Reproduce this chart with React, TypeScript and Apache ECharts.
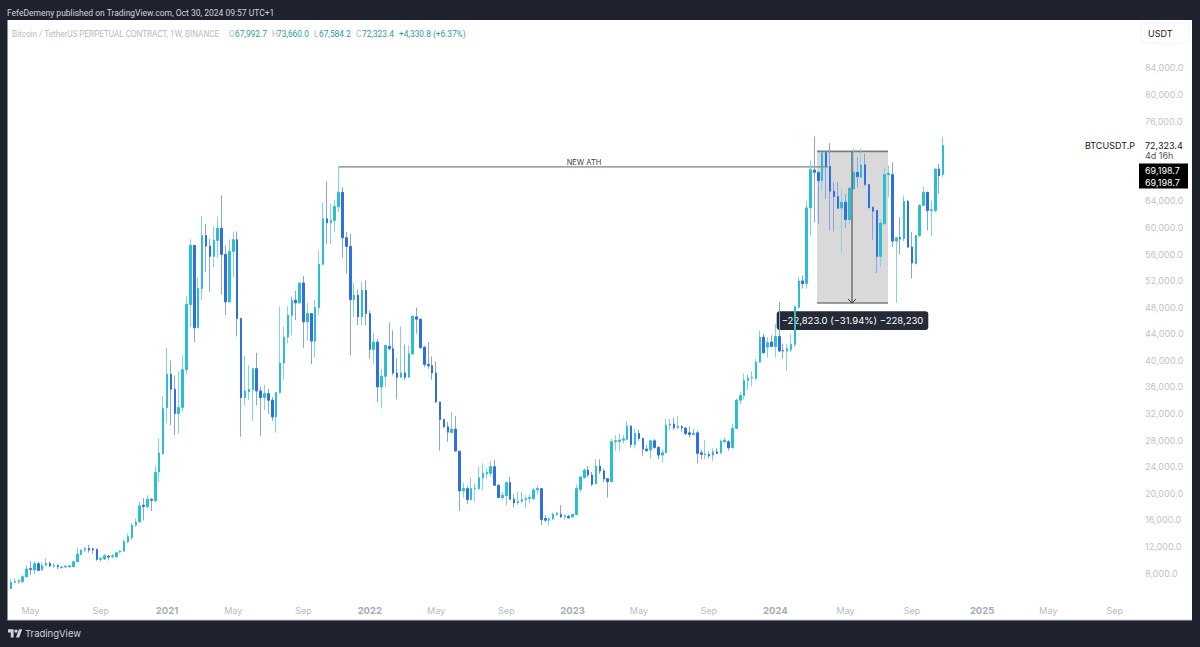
import React, { useEffect, useRef } from "react";
import * as echarts from "echarts";

echarts.graphic.registerShape(
  "tvlogo",
  (echarts.graphic as any).extendPath("M14 22H7V11H0V4h14v18zM28 22h-8l7.5-18h8L28 22z", {})
);

const opens = [
  5650,6600,6650,6700,7450,8650,8450,9400,8450,9200,
  9450,9050,9100,8800,8900,8950,8950,9700,10800,11500,
  11700,11650,11550,10050,10100,10550,10500,10450,11150,11300,
  12700,13350,15200,15700,18200,17950,19100,18850,23200,26000,
  32900,37900,35650,32000,32900,38600,48400,57300,44900,50800,
  58800,57200,55650,58050,59900,55950,48800,56400,58150,46300,
  34400,35300,35600,38750,35400,34400,35000,34000,31500,35150,
  39600,43500,46800,49050,48650,51650,45800,47050,42900,47950,
  54450,61300,60700,61050,63150,65300,58450,57150,49150,49800,
  46550,50550,47050,41650,42750,36000,37600,42100,41750,38100,
  37450,38100,37450,41000,46550,46200,42000,39400,39200,38100,
  33750,31100,30000,29150,29650,26350,20350,20700,19050,20700,
  20700,22350,22900,23000,24000,21200,19350,19650,21600,19100,
  18550,18800,19050,19200,19200,20500,20700,16200,15950,16150,
  16800,16800,16450,16550,16450,16800,20600,22350,23500,22750,
  21450,24100,23350,22200,21750,27750,27800,28000,28100,30100,
  27350,29000,28250,26650,26500,27900,26900,25750,26100,30250,
  30400,29900,30000,29800,29100,28850,29100,26100,25800,25850,
  25750,26250,26100,27750,27750,26850,29750,34000,34700,37000,
  37350,37300,39750,43500,42000,42750,42100,43600,41500,41400,
  41600,42400,48000,51950,51550,62950,68650,68300,67050,71250,
  69200,65450,64650,62950,63800,61200,65800,68300,67550,69450,
  66450,63050,62550,55650,60550,67950,67950,57950,58450,58300,
  63950,57050,54550,58800,63300,65300,62550,62550,68800,67993,
];
const closes = [
  6600,6700,6800,7450,8600,8550,9400,8400,9100,9450,
  9050,9150,8950,8900,9050,9100,9700,10850,11450,11650,
  11450,11500,10050,10200,10600,10400,10600,11050,11300,12750,
  13450,15200,15650,18100,18000,19100,18950,23150,26050,32750,
  37900,35650,32000,32900,38600,48450,57300,44900,50800,58800,
  57200,55650,58050,59900,55950,48800,56400,58150,46300,34400,
  35400,35600,38750,35400,34400,35000,34000,31500,35150,39600,
  43500,46800,49050,48650,51650,45800,47050,42900,47950,54450,
  61300,60700,61050,63150,65300,58450,57150,49150,49800,46550,
  50550,47050,41650,42750,36000,37600,42250,41750,38100,37450,
  38100,37450,41000,46650,46200,41900,39400,39200,38100,33750,
  31100,30000,29200,29650,26350,20350,20700,19050,20700,20800,
  22350,23000,23150,24000,21200,19350,19700,21600,19100,18550,
  18800,19050,19200,19350,20500,20700,16050,15950,16150,16850,
  16950,16450,16600,16300,16800,20700,22450,23500,22750,21350,
  24100,23350,22150,21750,27750,27900,28000,28200,30100,27350,
  29000,28250,26650,26400,27900,26900,25750,26100,30250,30400,
  29900,30100,29850,29000,28850,29050,26000,25850,25900,25650,
  26250,26000,27850,28000,26850,29750,34000,34700,37000,37350,
  37450,39700,43500,41150,42650,42100,43600,41400,41400,41750,
  42400,48050,51950,51550,62950,68700,68300,67050,71250,69200,
  65450,64650,62900,63800,61200,65900,68300,67650,69400,66450,
  62950,62450,55650,60650,67950,68150,57950,58450,58250,63950,
  57050,54650,58800,63300,65300,62550,62650,68800,67800,72323,
];
const highs = [
  7050,7200,7100,7650,9200,9800,9800,9700,9550,10250,
  9700,9450,9350,9050,9150,9200,9850,11900,11550,11950,
  12250,11750,11700,10450,10850,10700,10850,11200,11450,13050,
  13950,15550,16200,18700,19300,19700,19200,24100,28250,34600,
  41850,40000,37750,38350,40750,49650,58200,57300,52450,61700,
  60550,58300,60150,61650,64800,57300,58200,59400,59400,46300,
  40650,39250,38750,41150,36000,36350,35750,34500,35150,48050,
  45100,48150,49650,50450,51650,52700,48650,47150,49150,56550,
  63700,66950,63550,64150,69200,66050,59300,59050,51650,50650,
  51800,52050,47450,44100,43250,38650,42250,45700,44500,40250,
  45100,42400,42250,46800,47950,46300,42100,42750,40600,39850,
  33750,31100,30750,32250,31600,26350,21600,21050,22400,21500,
  24000,24500,23750,24900,25000,21350,20200,21750,22500,19850,
  20200,20200,19700,19850,20850,21200,20800,16700,16450,17100,
  17200,18200,16850,16700,16950,21300,22700,23750,24100,23200,
  25100,25100,23700,22250,28250,28750,29000,28800,30900,30250,
  29750,29600,28400,27250,28000,28150,27100,26600,31250,31250,
  31400,31600,30250,30000,30050,29750,29400,26500,28000,26250,
  26750,26750,28100,28350,28000,30400,34250,35300,38000,37950,
  38400,40200,44500,44000,43500,43750,45500,48800,42500,42500,
  44000,48300,52550,52800,64050,70050,73700,68300,71350,71250,
  72700,66800,66800,65800,65050,66150,71850,70600,71850,71100,
  66550,63050,62550,61050,69050,69300,69800,58450,61550,64800,
  64150,59300,58800,63550,66150,65300,64050,68800,69550,73660,
];
const lows = [
  5650,6450,6300,6550,7350,7700,7850,8300,8350,9050,
  8850,8700,8600,8700,8800,8800,8850,9600,10700,11150,
  11050,10850,9850,9650,9950,9900,10200,10300,10950,11150,
  12450,12950,14950,15550,15950,17850,17350,18700,21700,25750,
  30500,30250,28750,29000,32250,37850,45000,42750,44900,49150,
  53300,50300,54050,55400,49900,46800,48650,52550,43600,28500,
  33250,34000,30900,33250,28650,32500,31900,30900,29150,35000,
  37100,42600,43750,46050,48550,41900,43000,39400,40500,46800,
  54300,57550,57450,59300,62300,55450,53050,40750,46550,45300,
  45300,45300,40250,39500,33750,32750,36000,41500,37750,34100,
  37450,37000,37450,40750,44000,41750,39000,38750,37100,33600,
  26400,29900,27750,29000,26350,17350,19350,18350,18850,18700,
  20450,20450,22250,22500,21150,19300,19050,18200,19050,17850,
  18200,18550,17700,18450,18950,19850,15200,15700,15200,15950,
  16600,16300,16050,16200,16350,16700,20100,22200,22400,21050,
  21350,22900,21650,19350,21650,26400,26350,27500,27900,26850,
  26750,27900,25650,26250,25250,26700,25100,24650,26000,29500,
  29500,29600,29250,28750,28400,28700,24500,25100,25100,25250,
  24850,25900,25900,27600,26400,26750,29750,33400,34100,35550,
  36100,37000,39600,41000,40400,42000,40500,41250,40250,38400,
  41250,42000,47800,50800,50800,58800,60800,60550,65550,64300,
  59550,59400,62800,56300,59950,60550,65800,66050,67450,66300,
  62950,58150,53150,54050,60550,64550,57050,48650,55950,57950,
  56950,52300,54450,58550,63300,59550,58700,62300,65050,67584,
];

const MONTHS = ["Jan","Feb","Mar","Apr","May","Jun","Jul","Aug","Sep","Oct","Nov","Dec"];
const FIRST_WEEK_UTC = Date.UTC(2020, 2, 30);
const WEEK_MS = 7 * 24 * 3600 * 1000;
const SLOTS = 290;
const weeks: string[] = [];
for (let i = 0; i < SLOTS; i++) weeks.push(new Date(FIRST_WEEK_UTC + i * WEEK_MS).toISOString().slice(0, 10));

const HIDDEN_PRICE_TICKS = [4000, 68000, 72000, 88000];
const ATH_PRICE = 69198.7;
const BOX_TOP = 71450;
const BOX_BOTTOM = 48627;

const FONT = "Inter, 'Noto Sans', sans-serif";
const NARROW = "Roboto, 'Noto Sans', sans-serif";
const BG = "#1e222d";
const UP = "#2bbdd0";
const DOWN = "#2f6fe6";
const UP_WICK = "#7fd6e2";
const DOWN_WICK = "#86a4ea";
const GRID_L = 9.05;
const BAND = 3.9;
const GRID_W = BAND * SLOTS;
const GRID_T = 41.4;
const GRID_H = 558.2;

const xOf = (i: number) => GRID_L + (i + 0.5) * BAND;

const txt = (x: number, y: number, text: string, fill: string, size = 9, extra: any = {}) => ({
  type: "text",
  style: { x, y, text, fill, font: `400 ${size}px ${extra.family || FONT}`, verticalAlign: "middle", align: extra.align || "left" },
  silent: true,
});
const rb = { family: NARROW };

export default function App() {
  const ref = useRef<HTMLDivElement>(null);
  useEffect(() => {
    const chart = echarts.init(ref.current!, undefined, { renderer: "svg" });
    chart.setOption({
      animation: false,
      backgroundColor: BG,
      grid: { left: GRID_L, top: GRID_T, width: GRID_W, height: GRID_H, containLabel: false },
      xAxis: {
        type: "category",
        data: weeks,
        boundaryGap: true,
        axisLine: { show: false },
        axisTick: { show: false },
        splitLine: { show: false },
        axisLabel: {
          interval: (_: number, v: string) => {
            const d = new Date(v + "T00:00:00Z");
            return d.getUTCDate() <= 7 && [0, 4, 8].includes(d.getUTCMonth());
          },
          hideOverlap: false,
          margin: 6,
          fontFamily: FONT,
          fontSize: 9,
          color: "#b8bbc3",
          formatter: (v: string) => {
            const d = new Date(v + "T00:00:00Z");
            return d.getUTCMonth() === 0 ? `{y|${d.getUTCFullYear()}}` : MONTHS[d.getUTCMonth()];
          },
          rich: { y: { fontFamily: FONT, fontSize: 9.5, fontWeight: 700, color: "#a9acb5" } },
        },
      },
      yAxis: {
        type: "value",
        position: "right",
        min: 4000,
        max: 88000,
        interval: 4000,
        axisLine: { show: false },
        axisTick: { show: false },
        splitLine: { show: false },
        axisLabel: {
          margin: 5,
          fontFamily: FONT,
          fontSize: 9,
          color: "#c0c3ca",
          formatter: (v: number) =>
            HIDDEN_PRICE_TICKS.includes(v) ? "" : v.toLocaleString("en-US", { minimumFractionDigits: 1, maximumFractionDigits: 1 }),
        },
      },
      series: [
        {
          name: "wicks",
          type: "candlestick",
          barWidth: 1,
          silent: true,
          z: 2,
          itemStyle: { color: UP_WICK, color0: DOWN_WICK, borderColor: UP_WICK, borderColor0: DOWN_WICK, borderWidth: 1 },
          data: opens.map((o, i) => [o, closes[i], lows[i], highs[i]]),
        },
        {
          name: "BTCUSDT.P",
          type: "candlestick",
          barWidth: 2,
          silent: true,
          z: 3,
          itemStyle: { color: UP, color0: DOWN, borderColor: UP, borderColor0: DOWN, borderWidth: 1 },
          data: opens.map((o, i) => [o, closes[i], Math.min(o, closes[i]), Math.max(o, closes[i])]),
        },
      ],
    });

    const yOf = (p: number) => chart.convertToPixel({ yAxisIndex: 0 }, p) as number;
    const boxL = 817, boxR = 888;
    const yTop = yOf(BOX_TOP), yBot = yOf(BOX_BOTTOM), yAth = yOf(ATH_PRICE);
    const midX = xOf(215) + 2.5;
    const green = "#2a9d8f";
    const grey = "#b6b9c1";

    const elements: any[] = [
      { type: "rect", shape: { x: 7.5, y: 20, width: 1184.5, height: 600 }, style: { fill: "#ffffff" }, silent: true },
      { type: "line", shape: { x1: 7.5, y1: 620, x2: 1192, y2: 620 }, style: { stroke: "#c8cad0", lineWidth: 1 }, silent: true },
      txt(7, 13, "FefeDemeny published on TradingView.com, Oct 30, 2024 09:57 UTC+1", "#d1d4dc", 8.5, rb),
      txt(12, 33.7, "Bitcoin / TetherUS PERPETUAL CONTRACT, 1W, BINANCE", grey, 8.15, rb),
      txt(229, 33.7, "O", grey, 8.3, rb),
      txt(235, 33.7, "67,992.7", green, 8.3, rb),
      txt(272, 33.7, "H", grey, 8.3, rb),
      txt(277, 33.7, "73,660.0", green, 8.3, rb),
      txt(314, 33.7, "L", grey, 8.3, rb),
      txt(319, 33.7, "67,584.2", green, 8.3, rb),
      txt(356, 33.7, "C", grey, 8.3, rb),
      txt(362, 33.7, "72,323.4", green, 8.3, rb),
      txt(399, 33.7, "+4,330.8 (+6.37%)", green, 8.3, rb),
      { type: "rect", shape: { x: 1141, y: 23, width: 48, height: 20, r: 3 }, style: { fill: "#ffffff", stroke: "#f0f3fa", lineWidth: 1 }, silent: true },
      txt(1148, 33, "USDT", "#131722", 9),
      txt(1135, 145.7, "BTCUSDT.P", "#131722", 9, { align: "right" }),
      txt(1145, 145.7, "72,323.4", "#131722", 9),
      txt(1145, 155.7, "4d 16h", "#50535e", 9),
      { type: "rect", shape: { x: 1139, y: 163.5, width: 49, height: 25 }, style: { fill: "#000000" }, silent: true },
      txt(1145, 170, "69,198.7", "#ffffff", 9),
      txt(1145, 182, "69,198.7", "#ffffff", 9),
      // drawdown box
      { type: "rect", shape: { x: boxL, y: yTop, width: boxR - boxL, height: yBot - yTop }, style: { fill: "#d9d9d9" }, silent: true },
      { type: "line", shape: { x1: boxL, y1: yTop, x2: boxR, y2: yTop }, style: { stroke: "#7d7d7d", lineWidth: 1.6 }, silent: true },
      { type: "line", shape: { x1: boxL, y1: yBot, x2: boxR, y2: yBot }, style: { stroke: "#7d7d7d", lineWidth: 1.6 }, silent: true },
      // new ATH line
      { type: "line", shape: { x1: xOf(84), y1: yAth + 0.5, x2: 828, y2: yAth + 0.5 }, style: { stroke: "#808080", lineWidth: 1.3 }, silent: true },
      txt(584, yAth - 4, "NEW ATH", "#3a3d45", 7.5, { align: "center" }),
      // price-range arrow
      { type: "line", z: 5, shape: { x1: midX, y1: yTop, x2: midX, y2: yBot }, style: { stroke: "#555555", lineWidth: 1.2 }, silent: true },
      { type: "polyline", z: 5, shape: { points: [[midX - 4, yBot - 4], [midX, yBot], [midX + 4, yBot - 4]] }, style: { stroke: "#333333", fill: "none", lineWidth: 1 }, silent: true },
      // tooltip
      { type: "rect", shape: { x: 776.7, y: 311.3, width: 151.6, height: 18.7, r: 3 }, style: { fill: "#252a36" }, silent: true },
      txt(852.5, 320.8, "\u221222,823.0 (\u221231.94%) \u2212228,230", "#ffffff", 9.5, { align: "center" }),
      // logo
      { type: "tvlogo", x: 8, y: 627.5, scaleX: 0.4, scaleY: 0.46, style: { fill: "#d1d4dc" }, silent: true },
      { type: "circle", shape: { cx: 16, cy: 631.2, r: 1.6 }, style: { fill: "#d1d4dc" }, silent: true },
      txt(25, 633.5, "TradingView", "#d1d4dc", 9.5),
    ];
    chart.setOption({ graphic: { elements } });
    return () => chart.dispose();
  }, []);
  return <div ref={ref} style={{ position: "fixed", left: 0, top: 0, width: 1200, height: 647 }} />;
}
